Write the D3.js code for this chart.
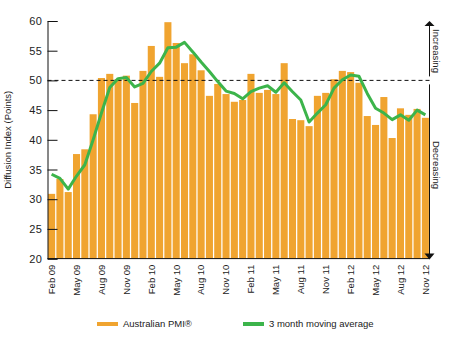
<!DOCTYPE html>
<html>
<head>
<meta charset="utf-8">
<script src="https://cdn.jsdelivr.net/npm/d3@7"></script>
<style>
  body { margin: 0; background: #fff; }
  text { font-family: "Liberation Sans", Arial, sans-serif; fill: #222; }
</style>
</head>
<body>
<div id="wrapper"></div>
<script>
const months = [
  "Feb 09","Mar 09","Apr 09","May 09","Jun 09","Jul 09","Aug 09","Sep 09","Oct 09","Nov 09","Dec 09",
  "Jan 10","Feb 10","Mar 10","Apr 10","May 10","Jun 10","Jul 10","Aug 10","Sep 10","Oct 10","Nov 10","Dec 10",
  "Jan 11","Feb 11","Mar 11","Apr 11","May 11","Jun 11","Jul 11","Aug 11","Sep 11","Oct 11","Nov 11","Dec 11",
  "Jan 12","Feb 12","Mar 12","Apr 12","May 12","Jun 12","Jul 12","Aug 12","Sep 12","Oct 12","Nov 12"
];
const pmi = [
  30.9, 33.4, 31.2, 37.6, 38.4, 44.3, 50.4, 51.1, 50.2, 50.8, 46.2,
  51.6, 55.8, 50.6, 59.8, 56.3, 52.9, 54.4, 51.7, 47.4, 49.4, 47.7, 46.4,
  46.7, 51.1, 47.9, 48.4, 47.7, 52.9, 43.5, 43.3, 42.3, 47.4, 47.9, 50.2,
  51.6, 51.4, 49.6, 44.0, 42.5, 47.2, 40.3, 45.3, 44.2, 45.2, 43.7
];
const movingAvg = [
  34.2, 33.5, 31.7, 33.9, 35.8, 40.0, 44.5, 48.8, 50.3, 50.5, 48.9,
  49.5, 51.5, 52.9, 55.5, 55.6, 56.4, 54.8, 53.1, 51.5, 49.8, 48.2, 47.8,
  46.9, 48.1, 48.7, 49.1, 48.0, 49.6, 48.1, 46.7, 43.0, 44.5, 45.9, 48.7,
  50.1, 50.9, 50.7, 47.8, 45.3, 44.5, 43.4, 44.2, 43.3, 45.0, 44.2
];
const tickLabels = ["Feb 09","May 09","Aug 09","Nov 09","Feb 10","May 10","Aug 10","Nov 10",
  "Feb 11","May 11","Aug 11","Nov 11","Feb 12","May 12","Aug 12","Nov 12"];
const yTicks = [20, 25, 30, 35, 40, 45, 50, 55, 60];
const legendItems = ["Australian PMI\u00AE", "3 month moving average"];

function drawChart() {
  const width = 449, height = 339;
  const plotLeft = 47.5, plotRight = 429.5, plotTop = 21, plotBottom = 258.6;

  const svg = d3.select("#wrapper").append("svg")
    .attr("width", width)
    .attr("height", height);

  const xScale = d3.scaleBand()
    .domain(months)
    .range([plotLeft, plotRight])
    .paddingInner(0.15)
    .paddingOuter(0.07);

  const yScale = d3.scaleLinear()
    .domain([20, 60])
    .range([plotBottom, plotTop]);

  // bars
  svg.append("g").selectAll("rect")
    .data(pmi)
    .join("rect")
    .attr("x", (d, i) => xScale(months[i]))
    .attr("y", d => yScale(d))
    .attr("width", xScale.bandwidth())
    .attr("height", d => plotBottom - yScale(d))
    .attr("fill", "#f0a430");

  // 50 line
  svg.append("line")
    .attr("x1", plotLeft).attr("x2", plotRight)
    .attr("y1", yScale(50)).attr("y2", yScale(50))
    .attr("stroke", "#111")
    .attr("stroke-width", 1)
    .attr("stroke-dasharray", "4,3");

  // moving average
  const lineGen = d3.line()
    .x((d, i) => xScale(months[i]) + xScale.bandwidth() / 2)
    .y(d => yScale(d));
  svg.append("path")
    .attr("d", lineGen(movingAvg))
    .attr("fill", "none")
    .attr("stroke", "#3cb44b")
    .attr("stroke-width", 3)
    .attr("stroke-linejoin", "round");

  // y axis, ticks pointing inward
  const yAxis = svg.append("g")
    .attr("transform", `translate(${plotLeft},0)`)
    .call(d3.axisRight(yScale).tickValues(yTicks).tickSize(10).tickPadding(0));
  yAxis.select(".domain").attr("stroke", "#111");
  yAxis.selectAll(".tick line").attr("stroke", "#111");
  yAxis.selectAll(".tick text")
    .attr("x", -5)
    .attr("text-anchor", "end")
    .attr("font-size", 11)
    .attr("letter-spacing", 0.5)
    .attr("fill", "#222");

  // x axis
  const xAxis = svg.append("g")
    .attr("transform", `translate(0,${plotBottom})`)
    .call(d3.axisBottom(xScale).tickValues(tickLabels).tickSize(0));
  xAxis.select(".domain").attr("stroke", "#111").attr("d", `M${plotLeft},0H${plotRight}`);
  xAxis.selectAll(".tick text")
    .attr("transform", "rotate(-90)")
    .attr("x", -6)
    .attr("y", 0)
    .attr("dy", "0.35em")
    .attr("text-anchor", "end")
    .attr("font-size", 9.5)
    .attr("fill", "#222");

  // y title
  svg.append("text")
    .attr("transform", `translate(11,${(plotTop + plotBottom) / 2}) rotate(-90)`)
    .attr("text-anchor", "middle")
    .attr("font-size", 9.5)
    .text("Diffusion Index (Points)");

  // right-hand direction axis
  const gap = [yScale(50) - 4, yScale(50) + 4];
  svg.append("line")
    .attr("x1", plotRight).attr("x2", plotRight)
    .attr("y1", plotTop + 4).attr("y2", gap[0])
    .attr("stroke", "#111");
  svg.append("line")
    .attr("x1", plotRight).attr("x2", plotRight)
    .attr("y1", gap[1]).attr("y2", plotBottom - 3)
    .attr("stroke", "#111");
  svg.append("path")
    .attr("d", `M${plotRight - 5},${plotTop + 5}L${plotRight},${plotTop}L${plotRight + 5},${plotTop + 5}Z`)
    .attr("fill", "#111");
  svg.append("path")
    .attr("d", `M${plotRight - 5},${plotBottom - 5}L${plotRight},${plotBottom + 1}L${plotRight + 5},${plotBottom - 5}Z`)
    .attr("fill", "#111");
  svg.append("text")
    .attr("transform", `translate(${plotRight + 7},${plotTop + 30}) rotate(90)`)
    .attr("text-anchor", "middle")
    .attr("dy", "0.35em")
    .attr("font-size", 9.5)
    .text("Increasing");
  svg.append("text")
    .attr("transform", `translate(${plotRight + 7},${plotTop + 144}) rotate(90)`)
    .attr("text-anchor", "middle")
    .attr("dy", "0.35em")
    .attr("font-size", 9.5)
    .text("Decreasing");

  // legend
  const legendColors = ["#f0a430", "#3cb44b"];
  const legendX = [97, 243];
  const legend = svg.append("g").selectAll("g")
    .data(legendItems)
    .join("g")
    .attr("transform", (d, i) => `translate(${legendX[i]},324)`);
  legend.append("line")
    .attr("x1", 0).attr("x2", 21)
    .attr("stroke", (d, i) => legendColors[i])
    .attr("stroke-width", 4);
  legend.append("text")
    .attr("x", 26)
    .attr("dy", "0.35em")
    .attr("font-size", 9.5)
    .text(d => d);
}

drawChart();
</script>
</body>
</html>
